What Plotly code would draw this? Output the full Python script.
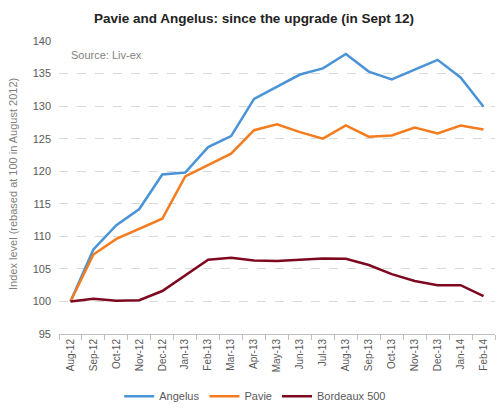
import plotly.graph_objects as go

months = ["Aug-12", "Sep-12", "Oct-12", "Nov-12", "Dec-12", "Jan-13", "Feb-13", "Mar-13",
          "Apr-13", "May-13", "Jun-13", "Jul-13", "Aug-13", "Sep-13", "Oct-13", "Nov-13",
          "Dec-13", "Jan-14", "Feb-14"]
angelus = [100, 108.0, 111.7, 114.2, 119.5, 119.8, 123.7, 125.4, 131.1, 133.0, 134.85,
           135.8, 138.0, 135.3, 134.1, 135.6, 137.1, 134.4, 129.9]
pavie = [100, 107.2, 109.6, 111.2, 112.7, 119.2, 121.0, 122.7, 126.3, 127.2, 126.0,
         125.0, 127.05, 125.3, 125.5, 126.7, 125.8, 127.0, 126.4]
bordeaux = [100, 100.4, 100.1, 100.2, 101.6, 104.0, 106.4, 106.7, 106.3, 106.2, 106.4,
            106.6, 106.55, 105.6, 104.2, 103.15, 102.5, 102.5, 100.8]
y_ticks = [95, 100, 105, 110, 115, 120, 125, 130, 135, 140]

fig = go.Figure()
for name, vals, col in [("Angelus", angelus, "#4A93D6"),
                        ("Pavie", pavie, "#F47C1E"),
                        ("Bordeaux 500", bordeaux, "#7D0820")]:
    fig.add_trace(go.Scatter(x=months, y=vals, name=name, mode="lines",
                             line=dict(color=col, width=2.5)))

font = "Liberation Sans, Arial, sans-serif"
fig.update_layout(
    width=500, height=414,
    margin=dict(l=59, r=5, t=41, b=79),
    paper_bgcolor="white", plot_bgcolor="white",
    font=dict(family=font, color="#595959", size=11),
    title=dict(text="<b>Pavie and Angelus: since the upgrade (in Sept 12)</b>",
               x=0.508, xref="container", xanchor="center", y=0.957, yanchor="middle",
               font=dict(size=13.5, color="#222222", family=font)),
    showlegend=True,
    legend=dict(orientation="h", x=0.45, xanchor="center", y=-0.208, yanchor="middle",
                font=dict(size=11, color="#595959"), itemwidth=30, tracegroupgap=0),
    xaxis=dict(type="category", range=[-0.5, 18.5], tickangle=-90, automargin=False,
               tickfont=dict(size=10, color="#595959"),
               showline=True, linecolor="#BFBFBF", linewidth=1,
               ticks="outside", tickson="boundaries", ticklen=5, tickcolor="#BFBFBF",
               showgrid=False, zeroline=False),
    yaxis=dict(range=[95, 140], tickvals=y_ticks, ticktext=[str(v) for v in y_ticks],
               automargin=False, ticklabelstandoff=7,
               tickfont=dict(size=11, color="#595959"),
               showgrid=True, gridcolor="#D9D9D9", griddash="dash", gridwidth=1,
               zeroline=False, showline=False, ticks=""),
    annotations=[
        dict(text="Source: Liv-ex", x=0.023, xref="paper", y=137.9, yref="y",
             xanchor="left", yanchor="middle", showarrow=False,
             font=dict(size=11, color="#7F7F7F")),
        dict(text="Index level (rebased at 100 in August 2012)", textangle=-90,
             x=(13 - 59) / 436, xref="paper", y=0.512, yref="paper", showarrow=False,
             xanchor="center", yanchor="middle",
             font=dict(size=11, color="#7F7F7F")),
    ],
)

fig.write_html("out.html", config={"displayModeBar": False},
               post_script="document.body.style.margin='0';document.body.style.overflow='hidden';")
